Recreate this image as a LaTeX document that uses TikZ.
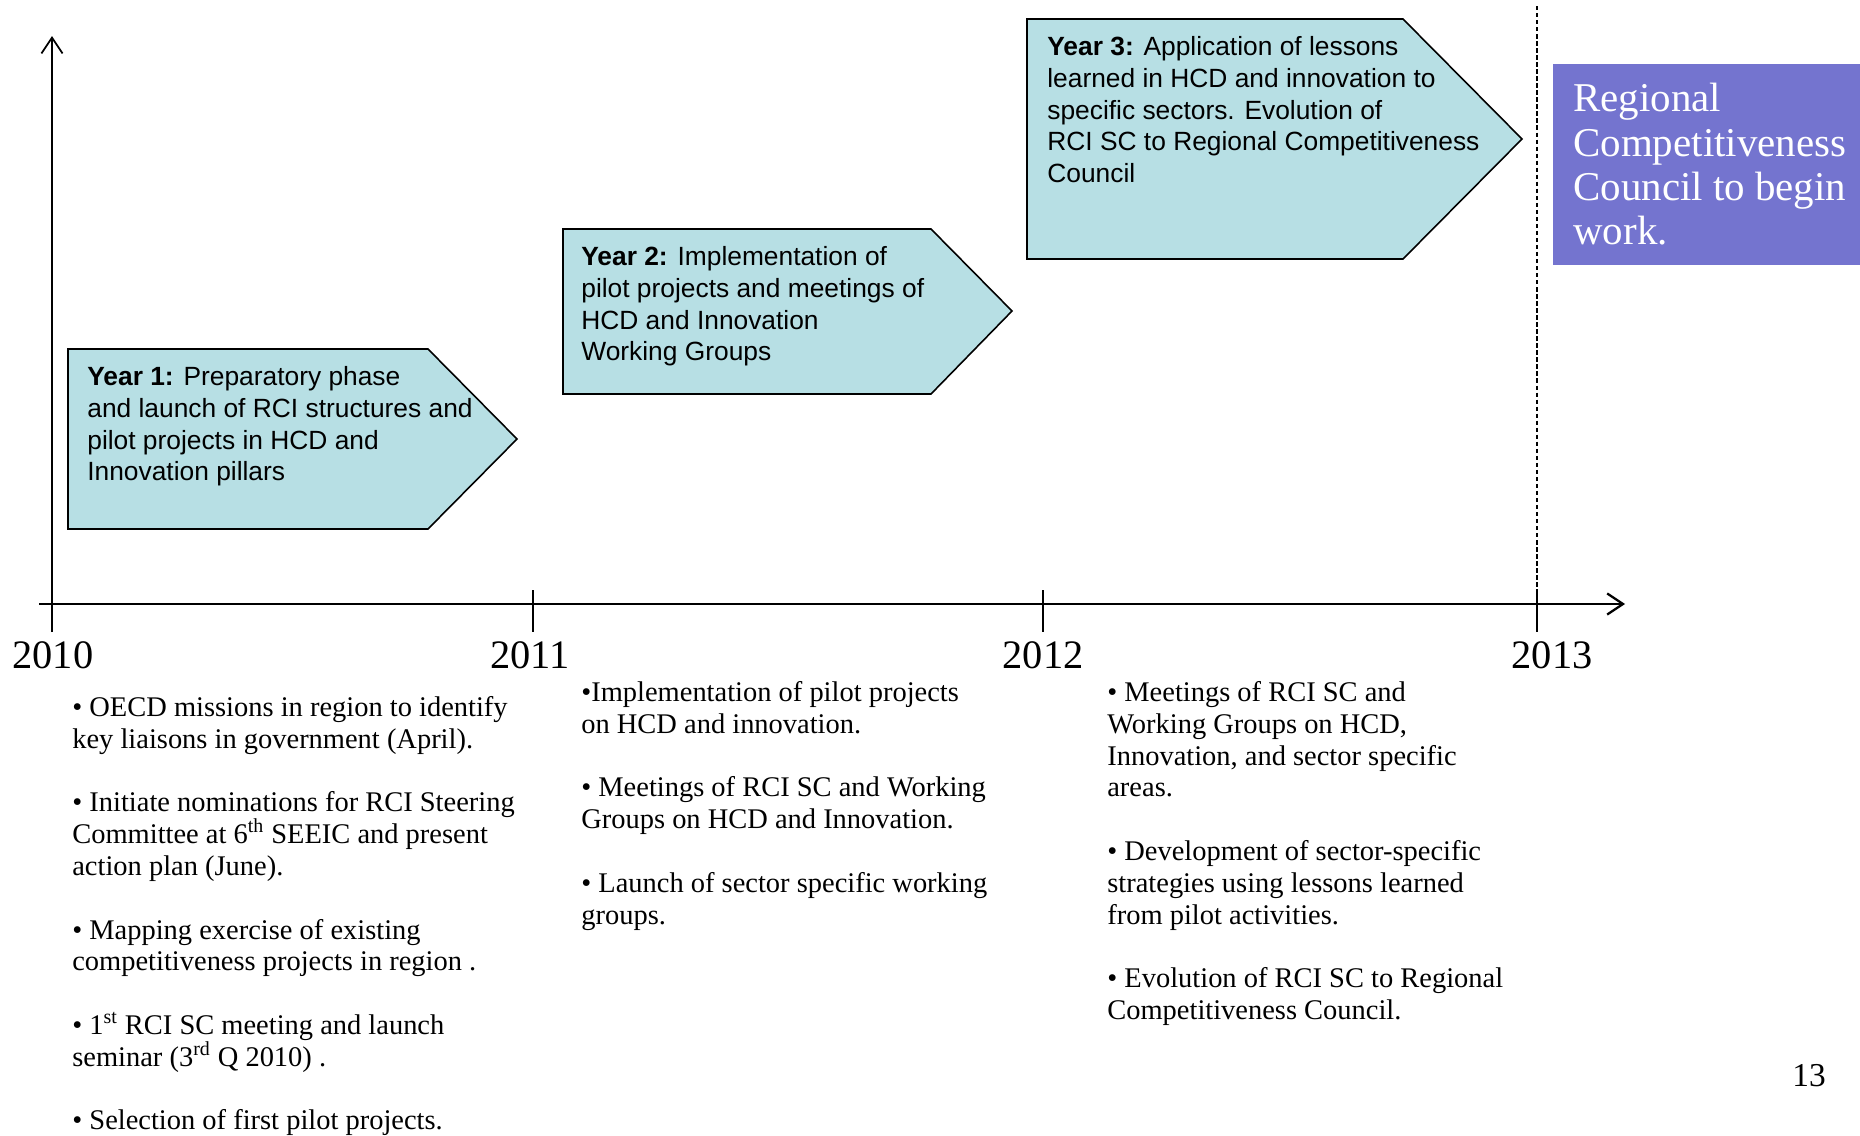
\documentclass[tikz,border=0pt]{standalone}
\usepackage{fontspec}
\setmainfont{Liberation Serif}
\setsansfont{Liberation Sans}
\usepackage{xcolor}
\usetikzlibrary{positioning}
\usetikzlibrary{arrows.meta}
\definecolor{phasefill}{RGB}{183,223,228}
\definecolor{councilfill}{RGB}{116,116,207}

\begin{document}
\begin{tikzpicture}[x=0.02cm, y=-0.02cm, >={Straight Barb[length=9pt,width=12pt]}, font=\rmfamily]
    \tikzstyle{phase}=[draw=black, line width=0.9pt, fill=phasefill]
    \tikzstyle{phasetext}=[anchor=north west, inner sep=0pt, align=left, font=\sffamily\fontsize{15}{18.1}\selectfont]
    \tikzstyle{bullets}=[anchor=north west, inner sep=0pt, align=left, font=\fontsize{16.2}{18.1}\selectfont]
    \tikzstyle{yearlabel}=[inner sep=0pt, font=\fontsize{23}{26}\selectfont]
    \tikzstyle{tick}=[line width=0.7pt]

    \useasboundingbox (0,0) rectangle (1860,1136);

    % axes
    \coordinate (ytop) at (52,36);
    \coordinate (ybot) at (52,632);
    \coordinate (xleft) at (39,604);
    \coordinate (xright) at (1625,604);
    \draw[->, line width=1pt] (ybot) -- (ytop);
    \draw[->, line width=1.3pt] (xleft) -- (xright);

    % year ticks and labels
    \foreach \tx/\yr in {533/2011, 1043/2012, 1537/2013}{
        \coordinate (up\yr) at (\tx,590);
        \coordinate (down\yr) at (\tx,632);
        \draw[tick] (up\yr) -- (down\yr);
    }
    \foreach \lx/\yr in {53/2010, 530/2011, 1043/2012, 1552/2013}
        \node[yearlabel] (lab\yr) at (\lx,655) {\yr};

    % end of the third year
    \coordinate (endtop) at (1537,6);
    \draw[line width=0.6pt, dash pattern=on 2.5pt off 1.5pt] (endtop) -- (up2013);

    % phase arrows
    \draw[phase] (68,349) -- (428,349) -- (517,439) -- (428,529) -- (68,529) -- cycle;
    \draw[phase] (563,229) -- (931,229) -- (1012,311) -- (931,394) -- (563,394) -- cycle;
    \draw[phase] (1027,19) -- (1403,19) -- (1522,139) -- (1403,259) -- (1027,259) -- cycle;

    \node[phasetext] (year1) at (87,366) {\textbf{Year 1:} Preparatory phase\\
        and launch of RCI structures and\\
        pilot projects in HCD and\\
        Innovation pillars};
    \node[phasetext] (year2) at (581,246) {\textbf{Year 2:} Implementation of\\
        pilot projects and meetings of\\
        HCD and Innovation\\
        Working Groups};
    \node[phasetext] (year3) at (1047,36) {\textbf{Year 3:} Application of lessons\\
        learned in HCD and innovation to\\
        specific sectors. Evolution of\\
        RCI SC to Regional Competitiveness\\
        Council};

    % council box
    \fill[councilfill] (1553,64) rectangle (1860,265);
    \node[anchor=north west, inner sep=0pt, align=left, text=white,
        font=\fontsize{23.3}{25.2}\selectfont] (council) at (1573,83) {Regional\\
        Competitiveness\\
        Council to begin\\
        work.};

    % activities per year
    \node[bullets] (acts2010) at (72,696) {\textbullet~OECD missions in region to identify\\
        key liaisons in government (April).\\[18.1pt]
        \textbullet~Initiate nominations for RCI Steering\\
        Committee  at 6\textsuperscript{th} SEEIC and present\\
        action plan (June).\\[18.1pt]
        \textbullet~Mapping exercise of existing\\
        competitiveness projects in region .\\[18.1pt]
        \textbullet~1\textsuperscript{st} RCI SC meeting and launch\\
        seminar (3\textsuperscript{rd} Q 2010) .\\[18.1pt]
        \textbullet~Selection of first pilot projects.};
    \node[bullets] (acts2011) at (581,681) {\textbullet Implementation of pilot projects\\
        on HCD and innovation.\\[18.1pt]
        \textbullet~Meetings of RCI SC and Working\\
        Groups on HCD and Innovation.\\[18.1pt]
        \textbullet~Launch of sector specific working\\
        groups.};
    \node[bullets] (acts2012) at (1107,681) {\textbullet~Meetings of RCI SC and\\
        Working Groups on HCD,\\
        Innovation, and sector specific\\
        areas.\\[18.1pt]
        \textbullet~Development of sector-specific\\
        strategies using lessons learned\\
        from pilot activities.\\[18.1pt]
        \textbullet~Evolution of RCI SC to Regional\\
        Competitiveness Council.};

    \node[font=\fontsize{19}{22}\selectfont] (pagenum) at (1809,1076) {13};
\end{tikzpicture}
\end{document}
